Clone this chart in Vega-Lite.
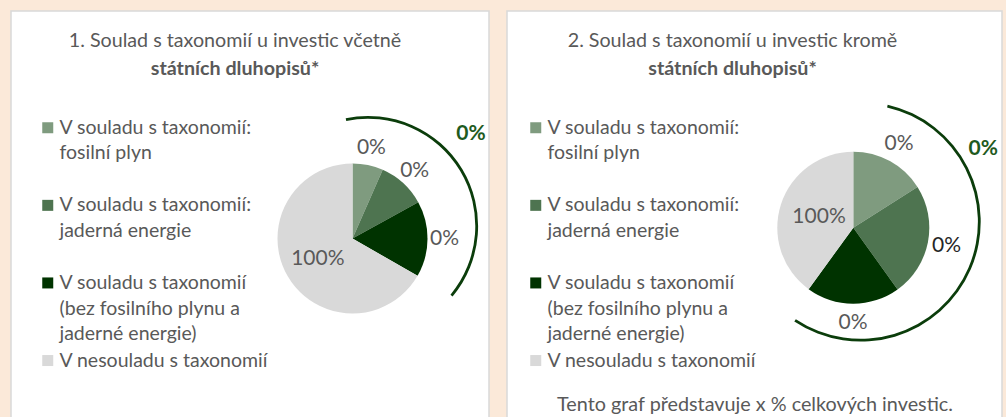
{
  "$schema": "https://vega.github.io/schema/vega-lite/v6.json",
  "background": "#FBE9D9",
  "padding": {"left": 10, "top": 10, "right": 4, "bottom": 0},
  "spacing": 16,
  "title": {
    "text": "Tento graf představuje x % celkových investic.",
    "orient": "bottom",
    "anchor": "middle",
    "frame": "group",
    "offset": -32,
    "dx": 744,
    "fontSize": 19.8,
    "fontWeight": "normal",
    "color": "#595959",
    "font": "Lato"
  },
  "config": {
    "view": {"fill": "#FFFFFF", "stroke": "#D9D9D9", "strokeWidth": 1.5},
    "font": "Lato",
    "title": {"font": "Lato", "fontWeight": "normal", "color": "#595959", "subtitleColor": "#595959", "subtitleFont": "Lato"},
    "legend": {
      "title": null,
      "symbolType": "square",
      "symbolSize": 121,
      "symbolStrokeWidth": 0,
      "labelFontSize": 19.5,
      "labelFont": "Lato",
      "labelColor": "#595959",
      "labelLimit": 400,
      "labelOffset": 2,
      "rowPadding": 5.6
    }
  },
  "resolve": {"scale": {"color": "independent", "theta": "independent"}, "legend": {"color": "independent"}},
  "hconcat": [
    {
      "width": 478,
      "height": 415,
      "title": {
        "text": "1. Soulad s taxonomií u investic včetně",
        "subtitle": "státních dluhopisů*",
        "frame": "group",
        "anchor": "middle",
        "offset": -68,
        "dx": -15,
        "fontSize": 19.7,
        "subtitleFontSize": 19.7,
        "subtitleFontWeight": "bold",
        "subtitlePadding": 9
      },
      "data": {"values": [
        {"i": 1, "cat": "V souladu s taxonomií: fosilní plyn", "value": 6.6, "label": "0%"},
        {"i": 2, "cat": "V souladu s taxonomií: jaderná energie", "value": 10.4, "label": "0%"},
        {"i": 3, "cat": "V souladu s taxonomií (bez fosilního plynu a jaderné energie)", "value": 16.3, "label": "0%"},
        {"i": 4, "cat": "V nesouladu s taxonomií", "value": 66.7, "label": "100%"}
      ]},
      "layer": [
        {
          "mark": {"type": "arc", "outerRadius": 75},
          "encoding": {
            "theta": {"field": "value", "type": "quantitative", "stack": true},
            "order": {"field": "i", "type": "quantitative"},
            "color": {
              "field": "cat", "type": "nominal",
              "scale": {
                "domain": ["V souladu s taxonomií: fosilní plyn", "V souladu s taxonomií: jaderná energie", "V souladu s taxonomií (bez fosilního plynu a jaderné energie)", "V nesouladu s taxonomií"],
                "range": ["#7F9B7F", "#4E7450", "#003300", "#D9D9D9"]
              },
              "legend": {
                "orient": "none", "legendX": 27, "legendY": 107,
                "labelExpr": "datum.value == 'V souladu s taxonomií: fosilní plyn' ? ['V souladu s taxonomií:', 'fosilní plyn', ' '] : datum.value == 'V souladu s taxonomií: jaderná energie' ? ['V souladu s taxonomií:', 'jaderná energie', ' '] : datum.value == 'V souladu s taxonomií (bez fosilního plynu a jaderné energie)' ? ['V souladu s taxonomií', '(bez fosilního plynu a', 'jaderné energie)'] : datum.label",
                "encode": {"labels": {"update": {"lineHeight": {"value": 25.7}}}}
              }
            },
            "x": {"value": 341.5},
            "y": {"value": 227.5}
          }
        },
        {
          "mark": {"type": "text", "radius": 92, "fontSize": 21, "color": "#595959"},
          "encoding": {
            "theta": {"field": "value", "type": "quantitative", "stack": true},
            "order": {"field": "i", "type": "quantitative"},
            "detail": {"field": "cat", "type": "nominal"},
            "text": {"field": "label", "type": "nominal", "condition": {"test": "datum.i == 4", "value": ""}},
            "x": {"value": 341.5},
            "y": {"value": 227.5}
          }
        },
        {
          "mark": {"type": "text", "radius": 40, "fontSize": 21, "color": "#595959"},
          "encoding": {
            "theta": {"field": "value", "type": "quantitative", "stack": true},
            "order": {"field": "i", "type": "quantitative"},
            "detail": {"field": "cat", "type": "nominal"},
            "text": {"field": "label", "type": "nominal", "condition": {"test": "datum.i != 4", "value": ""}},
            "x": {"value": 341.5},
            "y": {"value": 227.5}
          }
        },
        {
          "data": {"values": [{"total": "0%"}]},
          "mark": {"type": "arc", "theta": -0.204, "theta2": 2.265, "radius": 110.1, "radius2": 107.3, "fill": "#0B3D0B"},
          "encoding": {"x": {"value": 357}, "y": {"value": 215}}
        },
        {
          "data": {"values": [{"total": "0%"}]},
          "mark": {"type": "text", "fontSize": 21, "fontWeight": "bold", "color": "#1E5B1E"},
          "encoding": {"text": {"field": "total", "type": "nominal"}, "x": {"value": 460}, "y": {"value": 123.3}}
        }
      ]
    },
    {
      "width": 495,
      "height": 415,
      "title": {
        "text": "2. Soulad s taxonomií u investic kromě",
        "subtitle": "státních dluhopisů*",
        "frame": "group",
        "anchor": "middle",
        "offset": -68,
        "dx": -22,
        "fontSize": 19.7,
        "subtitleFontSize": 19.7,
        "subtitleFontWeight": "bold",
        "subtitlePadding": 9
      },
      "data": {"values": [
        {"i": 1, "cat": "V souladu s taxonomií: fosilní plyn", "value": 16.0, "label": "0%"},
        {"i": 2, "cat": "V souladu s taxonomií: jaderná energie", "value": 24.1, "label": "0%"},
        {"i": 3, "cat": "V souladu s taxonomií (bez fosilního plynu a jaderné energie)", "value": 19.9, "label": "0%"},
        {"i": 4, "cat": "V nesouladu s taxonomií", "value": 40.0, "label": "100%"}
      ]},
      "layer": [
        {
          "mark": {"type": "arc", "outerRadius": 76},
          "encoding": {
            "theta": {"field": "value", "type": "quantitative", "stack": true},
            "order": {"field": "i", "type": "quantitative"},
            "color": {
              "field": "cat", "type": "nominal",
              "scale": {
                "domain": ["V souladu s taxonomií: fosilní plyn", "V souladu s taxonomií: jaderná energie", "V souladu s taxonomií (bez fosilního plynu a jaderné energie)", "V nesouladu s taxonomií"],
                "range": ["#7F9B7F", "#4E7450", "#003300", "#D9D9D9"]
              },
              "legend": {
                "orient": "none", "legendX": 19, "legendY": 107,
                "labelExpr": "datum.value == 'V souladu s taxonomií: fosilní plyn' ? ['V souladu s taxonomií:', 'fosilní plyn', ' '] : datum.value == 'V souladu s taxonomií: jaderná energie' ? ['V souladu s taxonomií:', 'jaderná energie', ' '] : datum.value == 'V souladu s taxonomií (bez fosilního plynu a jaderné energie)' ? ['V souladu s taxonomií', '(bez fosilního plynu a', 'jaderné energie)'] : datum.label",
                "encode": {"labels": {"update": {"lineHeight": {"value": 25.7}}}}
              }
            },
            "x": {"value": 346.3},
            "y": {"value": 216.7}
          }
        },
        {
          "mark": {"type": "text", "radius": 95, "fontSize": 21},
          "encoding": {
            "theta": {"field": "value", "type": "quantitative", "stack": true},
            "order": {"field": "i", "type": "quantitative"},
            "detail": {"field": "cat", "type": "nominal"},
            "text": {"field": "label", "type": "nominal", "condition": {"test": "datum.i == 4", "value": ""}},
            "color": {"condition": {"test": "datum.i == 2", "value": "#262626"}, "value": "#595959"},
            "x": {"value": 346.3},
            "y": {"value": 216.7}
          }
        },
        {
          "mark": {"type": "text", "radius": 36, "fontSize": 21, "color": "#595959"},
          "encoding": {
            "theta": {"field": "value", "type": "quantitative", "stack": true},
            "order": {"field": "i", "type": "quantitative"},
            "detail": {"field": "cat", "type": "nominal"},
            "text": {"field": "label", "type": "nominal", "condition": {"test": "datum.i != 4", "value": ""}},
            "x": {"value": 346.3},
            "y": {"value": 216.7}
          }
        },
        {
          "data": {"values": [{"total": "0%"}]},
          "mark": {"type": "arc", "theta": 0.227, "theta2": 3.728, "radius": 120, "radius2": 117.2, "fill": "#0B3D0B"},
          "encoding": {"x": {"value": 353.7}, "y": {"value": 210.6}}
        },
        {
          "data": {"values": [{"total": "0%"}]},
          "mark": {"type": "text", "fontSize": 21, "fontWeight": "bold", "color": "#1E5B1E"},
          "encoding": {"text": {"field": "total", "type": "nominal"}, "x": {"value": 476.3}, "y": {"value": 138.3}}
        }
      ]
    }
  ]
}
